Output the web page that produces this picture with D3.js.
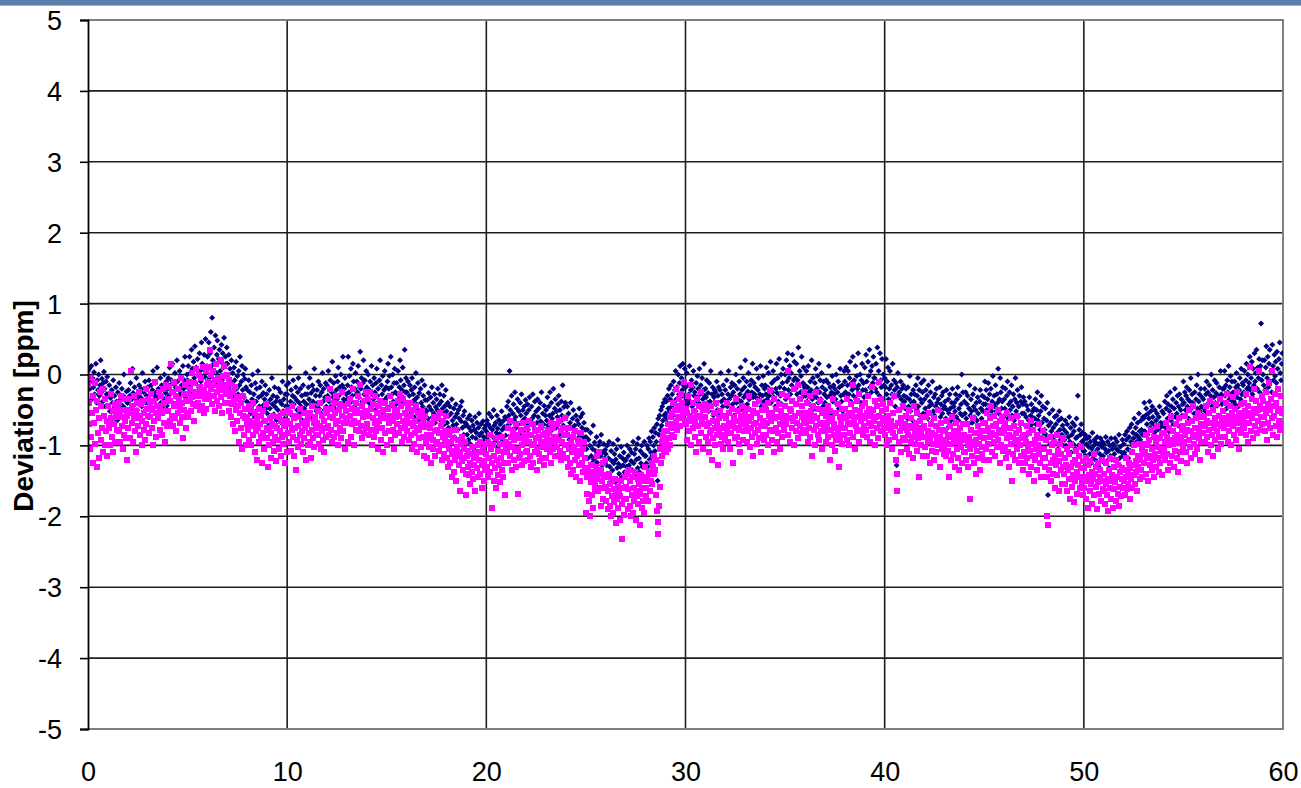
<!DOCTYPE html>
<html>
<head>
<meta charset="utf-8">
<script src="https://cdn.jsdelivr.net/npm/d3@7"></script>
<style>
  body { margin: 0; background: #ffffff; }
  svg { display: block; }
</style>
</head>
<body>
<svg id="chart" width="1301" height="788"></svg>
<script>
// Elapsed time axis (0–60) and deviation axis (-5…5 ppm)
const xTickValues = [0, 10, 20, 30, 40, 50, 60];
const yTickValues = [-5, -4, -3, -2, -1, 0, 1, 2, 3, 4, 5];
const yAxisTitle = "Deviation [ppm]";

// Series 1 (navy): deviation in hundredths of a ppm, one row per unit of elapsed time,
// samples evenly spaced within each row.
const navyRows = [
  [5,-2,8,-20,-10,12,-35,-5,-18,3,-28,-12,15,-40,-8,-22,0,-30,-15,20,-25,-6,-38,-12,4,-20,-45,-10,-28,-3],
  [-28,-45,-15,-52,-33,-60,-22,-40,-8,-48,-30,-55,-18,-38,-65,-25,-42,-12,-50,-35,-58,-20,-44,-30,0,-47,-36,-62,-24,-40],
  [-40,-22,-55,-30,-12,-48,-35,8,-26,-60,-18,-42,-33,-5,-50,-28,-38,-15,-58,-32,-20,-45,2,-36,-25,-52,-10,-40,-30,-48],
  [-18,-35,-8,-42,-28,-15,-50,-22,5,-38,-30,-12,-45,-25,10,-33,-20,-55,-28,-5,-40,-15,-32,-48,-22,0,-36,-26,-10,-44],
  [-20,-5,-30,10,-15,-38,-8,15,-25,-12,-42,2,-18,-30,20,-10,-35,-22,5,-28,-2,-15,-40,12,-20,-8,25,-32,-14,0],
  [-8,12,-20,25,2,-15,35,8,-25,18,-5,40,-12,10,-30,22,0,-18,30,5,-10,45,15,-22,8,28,-3,50,-15,12],
  [25,8,45,-5,30,60,12,80,20,-10,38,15,55,2,28,48,-12,22,35,5,18,42,-8,30,10,52,0,25,15,38],
  [15,-5,28,-18,8,-25,20,-12,2,-30,10,-8,-35,18,-20,-2,-28,5,-15,25,-40,-10,12,-22,0,-32,-6,8,-18,-38],
  [-22,-40,-8,-48,-25,-55,-15,-35,0,-42,-28,-60,-12,-38,-20,-50,5,-32,-45,-18,-58,-30,-10,-44,-26,-65,-35,-15,-48,-28],
  [-55,-40,-72,-22,-48,-35,-60,-5,-42,-30,-56,-18,-46,-38,-64,-32,-50,-20,-58,-38,-25,-68,-42,-10,-52,-35,-62,-28,-45,-15],
  [-28,-45,-12,-52,10,-38,-22,-58,-30,-8,-42,-32,-62,-18,-36,-50,-25,-5,-40,-55,-20,-45,-30,-65,-15,-38,-48,-28,2,-42],
  [-28,-58,-18,-35,-5,-42,-26,-60,-15,-38,-22,8,-46,-30,-52,-22,-40,-10,-48,-30,-15,-55,-25,2,-38,-20,-50,-32,-12,-45],
  [-15,-30,5,-38,-20,-8,-45,-25,18,-32,-12,-28,-48,-2,-22,-35,-10,10,-30,-18,-42,0,-25,-15,25,-35,-20,-5,-40,-28],
  [-35,-15,25,-25,-2,-40,8,-18,-30,15,-10,-45,-20,2,-28,-10,-25,12,-32,-15,32,-20,-5,-38,-12,20,-28,-8,-22,5],
  [-18,-32,0,-40,-22,-10,-45,12,-28,-15,-35,-5,-25,-50,-12,8,-30,-20,-38,-8,20,-42,-15,-28,-2,-55,-22,5,-35,-18],
  [-32,-10,15,-20,-2,-45,25,-18,-28,0,-38,-12,8,-25,-42,-12,-28,5,-35,-18,20,-8,-30,-22,10,-40,-15,35,-25,-5],
  [-25,-40,-10,-48,-30,-15,-55,-22,-5,-38,-28,-60,-18,-35,2,-42,-32,-12,-50,-26,-65,-20,-40,-8,-45,-30,-58,-15,-36,-50],
  [-52,-36,-62,-26,-45,-75,-32,-50,-18,-60,-40,-55,-28,-68,-46,-35,-50,-20,-58,-42,-28,-65,-38,-15,-48,-55,-30,-70,-44,-22],
  [-52,-68,-40,-75,-58,-45,-82,-55,-35,-65,-72,-48,-88,-60,-42,-70,-55,-78,-50,-62,-92,-45,-66,-38,-75,-58,-85,-52,-68,-72],
  [-70,-85,-62,-92,-75,-58,-98,-80,-65,-88,-72,-105,-78,-60,-90,-82,-68,-100,-75,-55,-86,-95,-70,-82,-110,-66,-88,-76,-92,-72],
  [-80,-65,-92,-70,-55,-85,-75,-98,-60,-78,-88,-50,-72,-95,-68,-82,-58,-76,-102,-64,-84,-70,-90,-52,-78,-66,-94,-74,-60,-86],
  [-62,-45,-72,-38,-58,5,-50,-68,-30,-78,-55,-42,-65,-25,-60,-75,-48,-35,-70,-52,-85,-40,-58,-28,-66,-50,-80,-45,-62,-36],
  [-55,-70,-42,-78,-50,-32,-65,-85,-45,-62,-28,-72,-58,-38,-80,-52,-68,-35,-60,-48,-90,-40,-66,-25,-75,-55,-70,-44,-82,-58],
  [-50,-65,-32,-72,-45,-58,-25,-80,-40,-62,-55,-20,-70,-48,-35,-75,-52,-60,-42,-30,-85,-50,-66,-38,-58,-15,-72,-46,-62,-40],
  [-60,-78,-45,-85,-55,-92,-68,-40,-75,-98,-62,-50,-82,-72,-105,-58,-80,-65,-90,-70,-48,-85,-60,-95,-75,-55,-88,-68,-100,-78],
  [-88,-105,-78,-118,-92,-130,-100,-82,-115,-125,-105,-72,-120,-96,-138,-108,-88,-124,-112,-100,-135,-95,-115,-85,-128,-110,-142,-98,-118,-106],
  [-112,-128,-100,-140,-118,-95,-130,-148,-108,-122,-135,-98,-125,-112,-152,-120,-105,-132,-92,-126,-140,-115,-130,-102,-145,-118,-128,-110,-138,-122],
  [-120,-130,-100,-140,-115,-128,-105,-148,-122,-110,-135,-95,-125,-112,-142,-105,-120,-98,-132,-90,-118,-138,-108,-125,-100,-130,-112,-145,-95,-115],
  [-115,-125,-100,-130,-105,-90,-120,-95,-110,-80,-115,-88,-100,-75,-108,-82,-95,-70,-150,-62,-85,-58,-78,-50,-72,-45,-65,-40,-58,-35],
  [-55,-38,-62,-30,-48,-20,-52,-35,-15,-45,-28,-58,-10,-40,-22,5,-35,-18,-48,0,-28,-12,12,-32,-5,-22,15,-15,-30,8],
  [-18,-35,2,-42,-15,-28,12,-38,-22,-8,-45,-18,5,-30,-25,-52,-12,-32,-2,-20,-40,8,-28,-15,-48,-5,-35,-22,15,-30],
  [-20,-32,-8,-40,-26,-52,-12,-38,5,-45,-28,-18,-58,-32,-22,-25,-42,-10,-50,-30,-18,-55,-22,2,-38,-28,-45,-15,-35,-60],
  [-22,-38,-8,-45,-28,5,-35,-52,-18,-30,-12,-42,-25,-58,-15,-32,0,-40,-20,-35,-48,-10,-28,10,-38,-22,-50,-5,-32,-18],
  [20,-28,-10,-42,-24,2,-35,-15,-50,-8,-25,15,-32,-12,-28,-18,-32,8,-40,-22,-5,-35,-28,12,-45,-15,-30,-2,-38,-20],
  [-15,-28,10,-35,-18,2,-30,-22,18,-40,-12,-25,5,-32,-8,-45,-20,15,-26,-5,-38,22,-18,-30,0,-42,-12,8,-28,-20],
  [0,-35,20,-10,30,-22,-5,12,-28,2,-15,28,-38,-8,18,-5,-20,15,-28,-8,38,-15,5,-25,-2,25,-32,-12,10,-18],
  [-15,-30,5,-38,-18,12,-25,-42,-10,-22,20,-35,-5,-28,-48,-12,8,-32,-20,-2,-40,15,-25,-8,-35,2,-18,-45,-10,-28],
  [-40,-22,-8,-32,-45,-12,12,-30,-18,-55,-25,-2,-38,-15,-28,-20,-35,0,-42,-25,-10,-48,-18,8,-30,-38,-15,-52,-28,5],
  [-10,-25,10,-32,-15,5,-28,-5,18,-38,-12,-22,25,-30,-8,-18,12,-35,-2,-20,30,-15,-28,0,-40,-8,15,-22,-12,-32],
  [10,-22,28,-10,-28,18,-2,35,-18,5,-25,12,-12,25,-5,-5,-20,15,-25,38,-12,5,-30,30,-8,-18,22,-35,0,-15],
  [-5,-18,22,-28,-10,10,-35,-20,5,-40,-15,-28,15,-32,-8,-22,-45,-12,-128,-18,2,-30,-25,-50,-10,-35,-20,-42,-15,-30],
  [-38,-48,-20,-32,-62,-18,-45,-35,-2,-52,-28,-40,-65,-22,-38,-28,-42,-15,-50,-30,-5,-45,-22,-58,-35,-12,-40,-25,-55,-8],
  [-35,-48,-22,-55,-30,-62,-15,-45,-38,-25,-68,-42,-10,-52,-32,-58,-28,-45,-20,-40,-72,-35,-50,-18,-60,-42,-30,-55,-25,-48],
  [-45,-38,-62,-22,-50,-75,-35,-55,-28,-48,-65,-40,-20,-58,-45,-40,-52,-28,-60,-35,-18,-65,-48,-30,-55,-42,0,-58,-25,-70],
  [-38,-55,-25,-62,-42,-30,-70,-48,-15,-58,-35,-52,-68,-28,-45,-60,-20,-50,-40,-65,-32,-55,-72,-38,-22,-48,-62,-30,-52,-42],
  [-32,-10,-42,-22,-50,-35,-12,-58,-28,-45,-20,-52,-38,-2,-42,-30,-45,-15,-52,-28,-40,8,-55,-35,-5,-25,-48,-38,-18,-60],
  [-35,-48,-20,-55,-30,-10,-62,-42,-25,-50,-38,-15,-58,-45,-28,-65,-35,-5,-52,-40,-22,-60,-45,-30,-70,-38,-18,-55,-42,-32],
  [-55,-38,-72,-60,-44,-85,-50,-65,-32,-75,-58,-42,-70,-52,-62,-48,-62,-35,-70,-50,-25,-65,-58,-40,-78,-52,-30,-68,-45,-82],
  [-62,-78,-48,-85,-65,-40,-170,-72,-55,-98,-68,-80,-90,-50,-75,-88,-60,-95,-70,-58,-82,-105,-65,-52,-78,-92,-62,-85,-72,-100],
  [-78,-92,-65,-100,-82,-70,-108,-88,-60,-95,-75,-110,-85,-68,-98,-80,-72,-105,-90,-62,-88,-30,-100,-78,-115,-85,-70,-95,-82,-108],
  [-92,-108,-85,-115,-98,-90,-120,-102,-88,-112,-95,-125,-105,-82,-118,-100,-92,-110,-96,-122,-88,-105,-130,-98,-112,-90,-118,-102,-95,-115],
  [-98,-125,-105,-88,-110,-122,-95,-108,-132,-100,-115,-90,-120,-105,-98,-100,-112,-90,-120,-105,-95,-128,-108,-85,-118,-102,-130,-110,-92,-115],
  [-98,-110,-85,-115,-92,-80,-105,-118,-88,-75,-108,-95,-70,-100,-82,-90,-62,-98,-75,-85,-95,-68,-88,-55,-80,-92,-65,-78,-85,-60],
  [-62,-40,-80,-58,-48,-70,-85,-55,-62,-38,-75,-52,-68,-45,-60,-70,-82,-50,-88,-65,-55,-78,-92,-60,-45,-75,-68,-85,-52,-72],
  [-55,-68,-38,-75,-48,-30,-62,-42,-80,-52,-25,-65,-45,-58,-35,-70,-48,-20,-60,-40,-55,-30,-72,-45,-28,-62,-50,-35,-58,-42],
  [-10,-40,-25,-50,-30,-18,-45,-35,-62,-22,-38,-5,-48,-28,-40,-42,-55,-25,-60,-35,-15,-48,0,-38,-28,-52,-20,-45,-32,-58],
  [-35,-48,-20,-52,-28,-10,-42,-25,-55,-15,-38,-30,0,-45,-22,-50,-32,-8,-40,-26,-12,-44,-30,-58,-18,-35,5,-28,-42,-20],
  [-40,-20,5,-30,-15,-48,-8,-25,12,-35,-18,-2,-28,-10,-38,-25,-38,-10,-42,-18,2,-32,-15,-45,-22,-5,-35,8,-28,-12],
  [-15,-25,5,-30,-8,15,-20,0,-18,-12,25,-22,-5,18,-28,8,-15,30,-10,2,35,-20,10,-5,22,-25,12,72,-8,20],
  [0,-15,20,-22,10,40,-5,25,-18,15,35,-10,5,-25,42,12,-8,28,-2,18,-12,32,8,-20,22,45,2,-8,15,30]
];

// Series 2 (magenta): same layout as series 1.
const magentaRows = [
  [-15,-70,-40,-105,-5,-88,-55,-125,-30,-68,-98,-12,-50,-130,-38,-82,-62,-118,-25,-92,-45,-75,-110,-20,-58,-100,-35,-80,-65,-115],
  [-45,-75,-68,-100,-62,-28,-88,-52,-110,-70,-42,-95,-60,-78,-48,-55,-80,-40,-95,-60,-30,-72,-105,-50,-85,-65,-35,-90,-58,-120],
  [-50,-75,-35,-90,-55,5,-68,-45,-95,-60,-30,-80,-52,-110,-40,-72,-62,-25,-85,-58,-42,-100,-65,-38,-78,-55,-92,-20,-70,-48],
  [-35,-58,-82,-42,-60,-28,-75,-50,-100,-38,-65,-10,-55,-88,-45,-45,-62,-25,-78,-48,-30,-85,-55,-20,-68,-40,-95,-52,-15,-72],
  [-35,-52,-18,-65,-38,15,-58,-25,-72,-45,-10,-62,-30,-80,-42,-20,-55,-35,-68,-48,-5,-60,-40,-90,-28,-50,-15,-75,-38,-55],
  [-28,-60,-10,-38,-20,-52,2,-32,-42,-12,-65,-25,8,-45,-30,-25,-40,0,-50,-18,-5,-45,-30,10,-55,-22,-35,5,-48,-15],
  [-10,-28,10,-35,35,-20,0,-42,-15,5,-30,-52,-8,15,-25,-38,-5,-18,-45,-12,20,-32,-55,-2,-22,12,-40,-15,-28,0],
  [-22,-40,-8,-52,-30,-15,-60,-42,-25,-70,-38,-18,-80,-50,-32,-65,-45,-95,-35,-55,-75,-40,-105,-58,-30,-85,-62,-48,-100,-70],
  [-60,-78,-45,-92,-65,-50,-100,-72,-40,-85,-68,-110,-55,-80,-120,-62,-75,-48,-95,-70,-88,-58,-125,-82,-52,-105,-66,-90,-42,-76],
  [-90,-130,-78,-100,-62,-82,-118,-70,-95,-58,-108,-88,-72,-122,-92,-75,-92,-60,-105,-80,-65,-115,-88,-55,-98,-72,-125,-85,-68,-110],
  [-65,-82,-50,-95,-70,-55,-108,-78,-45,-88,-62,-115,-75,-135,-58,-92,-72,-102,-60,-85,-48,-98,-68,-80,-110,-55,-90,-75,-65,-120],
  [-70,-100,-62,-82,-95,-55,-118,-78,-45,-90,-68,-102,-60,-85,-75,-68,-85,-52,-98,-72,-40,-105,-80,-58,-92,-65,-110,-75,-48,-88],
  [-55,-72,-35,-85,-60,-20,-78,-48,-95,-62,-40,-88,-55,-70,-30,-82,-65,-100,-50,-75,-42,-90,-58,-25,-80,-68,-45,-105,-62,-52],
  [-62,-95,-42,-68,-58,-35,-88,-48,-70,-20,-65,-100,-55,-40,-78,-50,-68,-30,-80,-55,-15,-72,-45,-90,-60,-38,-82,-52,-25,-75],
  [-55,-70,-35,-85,-58,-25,-78,-48,-100,-62,-42,-88,-68,-30,-80,-55,-72,-105,-45,-65,-38,-92,-60,-75,-50,-110,-62,-40,-82,-58],
  [-100,-62,-48,-80,-68,-30,-92,-58,-42,-78,-65,-105,-50,-85,-60,-52,-70,-38,-82,-58,-28,-75,-45,-95,-65,-35,-88,-55,-72,-40],
  [-62,-80,-48,-92,-68,-40,-85,-58,-105,-72,-50,-98,-65,-82,-45,-110,-75,-55,-90,-78,-60,-102,-70,-52,-88,-66,-115,-74,-58,-95],
  [-118,-85,-70,-102,-90,-75,-125,-85,-68,-105,-92,-60,-115,-80,-98,-78,-95,-62,-108,-82,-55,-100,-72,-120,-88,-65,-112,-80,-92,-58],
  [-100,-118,-85,-130,-105,-80,-125,-95,-145,-112,-90,-138,-108,-120,-78,-150,-102,-115,-92,-128,-110,-165,-98,-122,-88,-135,-105,-118,-95,-140],
  [-170,-115,-130,-108,-142,-125,-155,-112,-138,-102,-148,-118,-128,-165,-110,-118,-132,-100,-145,-120,-95,-140,-110,-160,-128,-105,-150,-122,-135,-98],
  [-112,-130,-95,-145,-118,-85,-138,-105,-188,-125,-100,-150,-115,-132,-90,-160,-120,-108,-142,-128,-98,-152,-118,-135,-88,-145,-110,-125,-170,-102],
  [-95,-110,-75,-125,-98,-65,-115,-88,-135,-102,-80,-120,-92,-108,-70,-130,-85,-105,-168,-118,-90,-112,-78,-128,-100,-68,-122,-95,-85,-110],
  [-92,-108,-75,-120,-95,-65,-115,-85,-130,-100,-70,-125,-98,-80,-110,-90,-135,-105,-78,-112,-88,-122,-95,-72,-118,-102,-85,-128,-98,-82],
  [-118,-90,-105,-78,-98,-82,-110,-68,-125,-92,-75,-105,-88,-115,-95,-88,-102,-70,-115,-92,-65,-108,-80,-120,-95,-75,-112,-85,-100,-62],
  [-100,-118,-85,-130,-105,-75,-125,-95,-140,-110,-88,-135,-102,-120,-80,-145,-108,-115,-92,-128,-98,-150,-112,-82,-125,-105,-138,-95,-118,-132],
  [-195,-145,-168,-132,-178,-140,-200,-152,-128,-170,-145,-188,-138,-162,-155,-130,-148,-115,-165,-140,-110,-160,-135,-185,-150,-125,-175,-142,-158,-120],
  [-160,-178,-145,-190,-165,-140,-185,-155,-200,-172,-150,-195,-162,-180,-148,-210,-168,-175,-158,-188,-165,-205,-172,-150,-232,-182,-160,-198,-175,-145],
  [-158,-175,-140,-190,-162,-135,-185,-150,-200,-170,-145,-195,-160,-178,-138,-205,-165,-172,-148,-182,-155,-212,-168,-142,-188,-160,-178,-150,-195,-130],
  [-160,-172,-145,-178,-150,-138,-165,-140,-150,-125,-155,-130,-140,-115,-135,-120,-170,-192,-225,-208,-185,-158,-105,-125,-95,-115,-88,-108,-80,-100],
  [-95,-110,-80,-105,-70,-90,-60,-100,-75,-55,-85,-40,-70,-88,-50,-65,-20,-78,-45,-60,-35,-72,-50,-28,-62,-40,-55,-10,-48,-65],
  [-70,-48,-55,-92,-30,-66,-80,-58,-15,-100,-62,-75,-40,-52,-88,-68,-110,-35,-60,-72,-45,-95,-58,-25,-82,-64,-50,-105,-70,-42],
  [-60,-88,-72,-50,-95,-110,-68,-82,-45,-78,-120,-65,-90,-55,-75,-100,-40,-85,-70,-128,-62,-80,-52,-98,-75,-88,-58,-105,-72,-92],
  [-85,-62,-40,-78,-95,-70,-55,-105,-68,-82,-48,-72,-125,-60,-90,-75,-35,-88,-65,-52,-98,-78,-110,-58,-70,-45,-92,-66,-80,-55],
  [-58,-72,-95,-48,-80,-65,-30,-102,-75,-60,-88,-52,-115,-70,-42,-82,-68,-98,-55,-78,-38,-90,-62,-110,-72,-50,-85,-65,-92,-45],
  [-72,-50,-85,-68,-40,-100,-58,-78,-22,-65,-92,-55,-80,-35,-110,-62,-75,-48,-95,-60,-82,-42,-70,-105,-52,-88,-28,-66,-78,-58],
  [-45,-70,-58,-30,-85,5,-62,-48,-95,-52,-75,-38,-65,-100,-20,-58,-80,-42,-68,-90,-15,-55,-72,-35,-82,-60,-45,-78,-25,-65],
  [-55,-82,-68,-40,-95,-60,-75,-30,-88,-52,-115,-65,-45,-78,-58,-100,-25,-72,-62,-85,-48,-92,-70,-38,-80,-55,-105,-68,-50,-75],
  [-80,-58,-95,-72,-45,-88,-65,-120,-52,-78,-100,-62,-35,-85,-70,-108,-55,-92,-75,-42,-82,-130,-60,-90,-68,-48,-98,-75,-58,-85],
  [-48,-75,-62,-92,-35,-68,-55,-100,-82,-42,-70,-58,-15,-88,-65,-50,-105,-72,-38,-80,-60,-28,-95,-52,-78,-66,-45,-85,-58,-72],
  [-62,-40,-78,-55,-88,-30,-68,-48,-95,-58,-72,-18,-82,-50,-65,-100,-38,-60,-75,-45,-90,-10,-58,-70,-35,-80,-52,-66,-42,-75],
  [-62,-85,-48,-75,-100,-58,-70,-92,-40,-78,-65,-105,-55,-82,-30,-72,-88,-120,-140,-165,-68,-95,-50,-80,-62,-110,-75,-45,-90,-70],
  [-92,-70,-58,-105,-78,-85,-50,-112,-72,-95,-62,-88,-118,-75,-45,-98,-82,-68,-108,-55,-90,-145,-76,-65,-100,-82,-60,-115,-88,-72],
  [-75,-102,-88,-60,-115,-80,-95,-55,-125,-90,-70,-108,-82,-98,-62,-120,-85,-72,-110,-92,-50,-100,-78,-130,-88,-68,-105,-95,-80,-112],
  [-100,-78,-115,-92,-65,-108,-85,-145,-72,-98,-120,-88,-60,-112,-95,-80,-130,-90,-68,-105,-118,-82,-135,-95,-75,-102,-88,-125,-70,-110],
  [-85,-110,-92,-120,-70,-100,-130,-88,-105,-175,-78,-115,-95,-62,-125,-100,-82,-140,-92,-108,-72,-118,-98,-88,-135,-80,-112,-102,-68,-120],
  [-90,-68,-105,-80,-55,-98,-75,-120,-62,-88,-45,-110,-82,-72,-95,-58,-115,-85,-70,-102,-50,-92,-78,-125,-65,-100,-82,-60,-108,-75],
  [-80,-102,-68,-118,-90,-55,-110,-85,-130,-75,-98,-62,-150,-88,-112,-72,-95,-120,-82,-105,-58,-92,-125,-78,-100,-68,-115,-90,-135,-85],
  [-110,-88,-125,-95,-72,-118,-102,-140,-82,-108,-65,-130,-98,-115,-78,-150,-92,-120,-105,-85,-135,-100,-70,-112,-125,-90,-145,-105,-80,-118],
  [-105,-130,-118,-92,-145,-200,-212,-110,-135,-88,-125,-150,-100,-120,-140,-95,-160,-115,-128,-85,-142,-108,-165,-122,-98,-135,-112,-155,-90,-130],
  [-140,-118,-155,-128,-105,-165,-135,-148,-112,-175,-130,-100,-158,-125,-142,-180,-120,-150,-108,-138,-168,-128,-145,-115,-160,-132,-102,-152,-122,-170],
  [-132,-160,-145,-118,-175,-150,-128,-188,-142,-165,-122,-155,-138,-182,-148,-112,-170,-140,-158,-130,-190,-152,-125,-168,-145,-135,-178,-150,-120,-162],
  [-165,-140,-182,-155,-125,-170,-148,-192,-135,-160,-118,-175,-150,-142,-188,-130,-162,-152,-120,-178,-145,-168,-128,-185,-158,-138,-172,-148,-132,-160],
  [-150,-135,-170,-145,-118,-162,-140,-155,-125,-175,-132,-148,-110,-160,-128,-142,-100,-155,-122,-138,-165,-115,-130,-98,-148,-120,-135,-105,-145,-112],
  [-98,-125,-110,-140,-85,-118,-100,-150,-92,-128,-115,-78,-135,-105,-120,-88,-145,-112,-95,-130,-72,-118,-102,-138,-90,-125,-108,-82,-142,-115],
  [-105,-82,-120,-95,-68,-112,-88,-135,-100,-75,-125,-92,-60,-115,-98,-80,-130,-90,-108,-70,-118,-85,-138,-96,-62,-110,-88,-122,-78,-102],
  [-72,-95,-85,-58,-110,-78,-125,-68,-92,-50,-102,-80,-118,-65,-88,-45,-98,-75,-112,-62,-85,-105,-55,-90,-78,-120,-70,-95,-60,-82],
  [-82,-60,-95,-72,-45,-88,-65,-110,-55,-78,-38,-100,-68,-85,-50,-115,-75,-62,-92,-42,-80,-70,-105,-58,-88,-35,-72,-98,-64,-52],
  [-52,-75,-62,-88,-40,-70,-28,-95,-58,-80,-45,-65,-100,-55,-72,-32,-85,-60,-48,-92,-68,-25,-78,-55,-105,-62,-42,-82,-58,-70],
  [-62,-40,-75,-52,-85,-28,-58,-95,-45,-68,10,-55,-80,-35,-62,-90,-48,-20,-72,-55,-38,-82,-50,-65,5,-45,-78,-60,-30,-70],
  [-38,-60,-48,-80,-25,-55,-92,-42,-68,-12,-50,-75,-35,-62,5,-85,-45,-58,-28,-72,-40,-88,-52,-20,-65,-48,-78,-30,-55,-70]
];

const W = 1301, H = 788;
const plot = { left: 88, right: 1283, top: 20, bottom: 729 };
const fontFamily = "'Liberation Sans', Arial, sans-serif";

const svg = d3.select("#chart");

// header strip across the top
svg.append("rect").attr("x", 0).attr("y", 0).attr("width", W).attr("height", 5).attr("fill", "#5b7fac");
svg.append("rect").attr("x", 0).attr("y", 5).attr("width", W).attr("height", 1).attr("fill", "#9fb4cf");

const x = d3.scaleLinear().domain([0, 60]).range([plot.left, plot.right]);
const y = d3.scaleLinear().domain([-5, 5]).range([plot.bottom, plot.top]);

// gridlines
const grid = svg.append("g");
grid.selectAll("line.h")
  .data(yTickValues.filter(v => v > -5 && v < 5))
  .join("line")
  .attr("x1", plot.left).attr("x2", plot.right)
  .attr("y1", d => y(d)).attr("y2", d => y(d))
  .attr("stroke", "#1e1e1e").attr("stroke-width", 1.6);
grid.selectAll("line.v")
  .data(xTickValues.filter(v => v > 0 && v < 60))
  .join("line")
  .attr("y1", plot.top).attr("y2", plot.bottom)
  .attr("x1", d => x(d)).attr("x2", d => x(d))
  .attr("stroke", "#1e1e1e").attr("stroke-width", 1.6);

// plot frame (top, right, bottom in gray)
svg.append("path")
  .attr("d", `M${plot.left},${plot.top}H${plot.right}V${plot.bottom}H${plot.left}`)
  .attr("fill", "none").attr("stroke", "#7f7f7f").attr("stroke-width", 2);

// flatten rows into samples
const toPoints = rows => rows.flatMap((row, k) =>
  row.map((v, j) => ({ t: k + j / row.length, v: v / 100 })));
const navy = toPoints(navyRows);
const magenta = toPoints(magentaRows);

svg.append("clipPath").attr("id", "plotclip")
  .append("rect").attr("x", plot.left).attr("y", plot.top)
  .attr("width", plot.right - plot.left).attr("height", plot.bottom - plot.top);

const marks = svg.append("g").attr("clip-path", "url(#plotclip)");
const r = 3;
marks.append("g").selectAll("path")
  .data(navy)
  .join("path")
  .attr("d", d => {
    const cx = x(d.t), cy = y(d.v);
    return `M${cx},${cy - r}L${cx + r},${cy}L${cx},${cy + r}L${cx - r},${cy}Z`;
  })
  .attr("fill", "#000080");

const s = 6;
marks.append("g").attr("shape-rendering", "crispEdges").selectAll("rect")
  .data(magenta)
  .join("rect")
  .attr("x", d => Math.round(x(d.t) - s / 2))
  .attr("y", d => Math.round(y(d.v) - s / 2))
  .attr("width", s).attr("height", s)
  .attr("fill", "#ff00ff");

// y axis
const yAxis = d3.axisLeft(y).tickValues(yTickValues).tickSize(8).tickPadding(18)
  .tickFormat(d => String(d));
const gy = svg.append("g").attr("transform", `translate(${plot.left},0)`).call(yAxis);
gy.select(".domain").attr("stroke", "#000").attr("stroke-width", 1.8);
gy.selectAll(".tick line").attr("stroke", "#000").attr("stroke-width", 1.6);
gy.selectAll(".tick text")
  .attr("font-family", fontFamily)
  .attr("font-size", 27).attr("fill", "#000").attr("dy", "0.35em");

// x axis labels (no tick marks)
const xAxis = d3.axisBottom(x).tickValues(xTickValues).tickSize(0).tickPadding(33)
  .tickFormat(d => String(d));
const gx = svg.append("g").attr("transform", `translate(0,${plot.bottom})`).call(xAxis);
gx.select(".domain").remove();
gx.selectAll(".tick text")
  .attr("font-family", fontFamily)
  .attr("font-size", 27).attr("fill", "#000");

// y axis title
svg.append("text")
  .attr("transform", "translate(33,406) rotate(-90)")
  .attr("text-anchor", "middle")
  .attr("font-family", fontFamily)
  .attr("font-weight", "bold")
  .attr("font-size", 28)
  .attr("fill", "#000")
  .text(yAxisTitle);
</script>
</body>
</html>
